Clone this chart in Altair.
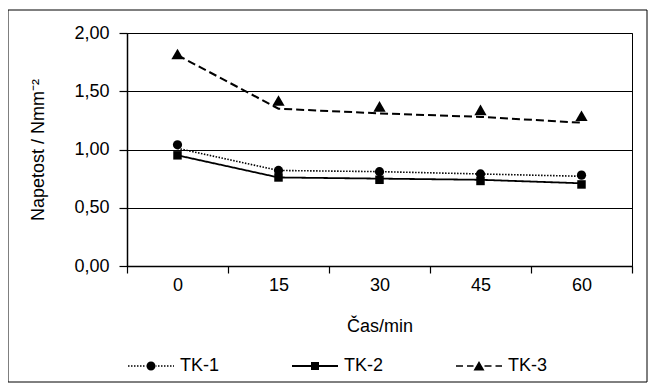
import altair as alt
import pandas as pd

# ---- data ----
times = [0, 15, 30, 45, 60]
series = ["TK-1", "TK-2", "TK-3"]
tk1_points = [1.04, 0.82, 0.81, 0.79, 0.78]
tk2_points = [0.95, 0.76, 0.74, 0.73, 0.70]
tk3_points = [1.82, 1.42, 1.37, 1.34, 1.29]
tk1_line = [1.01, 0.82, 0.81, 0.79, 0.77]
tk2_line = [0.95, 0.76, 0.75, 0.74, 0.71]
tk3_line = [1.81, 1.35, 1.31, 1.28, 1.23]
y_ticks = [0, 0.5, 1.0, 1.5, 2.0]

rows = []
for name, pts, ln in zip(series, [tk1_points, tk2_points, tk3_points],
                         [tk1_line, tk2_line, tk3_line]):
    for t, p, l in zip(times, pts, ln):
        rows.append({"t": t, "series": name, "point": p, "line": l})
df = pd.DataFrame(rows)

# ---- legend symbols: line + marker drawn as one filled custom path ----
SYM_W = 46.0          # symbol width in px
U = 2.0 / SYM_W       # px -> unit coordinates


def rect(x0, x1, h):
    return f"M{x0*U:.4f},{-h*U:.4f}L{x1*U:.4f},{-h*U:.4f}L{x1*U:.4f},{h*U:.4f}L{x0*U:.4f},{h*U:.4f}Z"


def circle(r):
    r = r * U
    return f"M{-r:.4f},0A{r:.4f},{r:.4f} 0 1,0 {r:.4f},0A{r:.4f},{r:.4f} 0 1,0 {-r:.4f},0Z"


def segs(pattern_on, pattern_off, start, end, h):
    out = []
    x = start
    while x < end:
        out.append(rect(x, min(x + pattern_on, end), h))
        x += pattern_on + pattern_off
    return "".join(out)


half = SYM_W / 2
p1 = segs(1.5, 1.5, -half, -4, 0.75) + segs(1.5, 1.5, 4, half, 0.75) + circle(4.5)
p2 = rect(-half, half, 1.0) + rect(-4, 4, 4)
tri = f"M0,{-5*U:.4f}L{5.5*U:.4f},{4.5*U:.4f}L{-5.5*U:.4f},{4.5*U:.4f}Z"
p3 = segs(7, 4, -half, -5.5, 0.75) + segs(7, 4, 5.5, half, 0.75) + tri
legend_paths = [p1, p2, p3]

FONT = "Liberation Sans"
FS = 18

x_enc = alt.X("t:O", bandPosition=0.5,
              scale=alt.Scale(type="band", paddingInner=0, paddingOuter=0),
              axis=alt.Axis(title="Čas/min", tickBand="extent", tickSize=7,
                            labelPadding=3, labelAngle=0, grid=False,
                            titleY=60, titleBaseline="middle"))
y_enc = alt.Y("line:Q",
              scale=alt.Scale(domain=[0, 2], nice=False),
              axis=alt.Axis(title="Napetost / Nmm⁻²", values=y_ticks,
                            labelExpr="replace(format(datum.value, '.2f'), '.', ',')",
                            tickSize=8, labelPadding=10, grid=True,
                            titleX=-89, titleBaseline="middle"))

lines = alt.Chart(df).mark_line(color="black").encode(
    x=x_enc,
    y=y_enc,
    detail="series:N",
    strokeDash=alt.StrokeDash("series:N",
                              scale=alt.Scale(domain=series,
                                              range=[[1.5, 1.5], [1, 0], [8, 4]]),
                              legend=None),
    strokeWidth=alt.StrokeWidth("series:N",
                                scale=alt.Scale(domain=series, range=[1.6, 2.0, 1.6]),
                                legend=None),
)

marker_styles = {"TK-1": ("circle", 85), "TK-2": ("square", 72), "TK-3": ("triangle-up", 150)}
point_layers = []
for name in series:
    shp, sz = marker_styles[name]
    point_layers.append(
        alt.Chart(df).transform_filter(alt.datum.series == name)
        .mark_point(filled=True, color="black", opacity=1, shape=shp, size=sz)
        .encode(x=x_enc, y=alt.Y("point:Q"))
    )

legend_layer = alt.Chart(df).transform_filter("false").mark_point(
    filled=True, color="black", opacity=1).encode(
    shape=alt.Shape("series:N",
                    scale=alt.Scale(domain=series, range=legend_paths),
                    legend=alt.Legend(title=None, orient="none", direction="horizontal",
                                      legendX=1, legendY=310,
                                      symbolSize=SYM_W * SYM_W,
                                      symbolStrokeWidth=0,
                                      symbolFillColor="black",
                                      labelFontSize=FS, labelFont=FONT,
                                      labelColor="black", labelOffset=6,
                                      columnPadding=72)),
)

border = alt.Chart(alt.Data(values=[{}])).mark_rect(
    fill="transparent", stroke="black", strokeWidth=1).encode(
    x=alt.value(-119), x2=alt.value(520), y=alt.value(-23), y2=alt.value(349))

chart = alt.layer(border, lines, *point_layers, legend_layer).resolve_scale(
    shape="independent", strokeDash="independent", strokeWidth="independent"
).resolve_legend(
    shape="independent", strokeDash="independent", strokeWidth="independent"
).properties(
    width=505, height=233,
    autosize=alt.AutoSizeParams(type="none"),
    padding={"left": 119, "top": 25, "right": 16, "bottom": 119},
).configure(
    background="white"
).configure_view(
    stroke="black", strokeWidth=1
).configure_axis(
    domainColor="black", domainWidth=1.5, tickColor="black", tickWidth=1.2,
    gridColor="black", gridWidth=1, labelColor="black", titleColor="black",
    labelFont=FONT, titleFont=FONT, labelFontSize=FS, titleFontSize=FS,
    titleFontWeight="normal",
)

chart.save("out.html", embed_options={"renderer": "svg", "actions": False})
